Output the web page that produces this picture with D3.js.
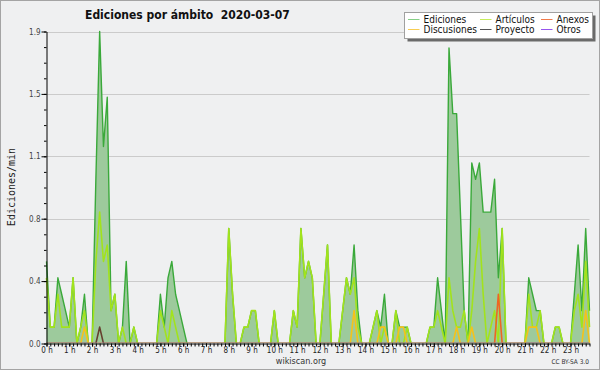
<!DOCTYPE html>
<html>
<head>
<meta charset="utf-8">
<script src="https://cdn.jsdelivr.net/npm/d3@7"></script>
<style>
  html, body { margin: 0; padding: 0; background: #eff0f1; }
  svg { display: block; }
</style>
</head>
<body>
<svg id="chart" width="600" height="370"></svg>
<script>
// edits per minute, one value per 10 minutes (6 per hour)
const ediciones = [
  0.5, 0.1, 0.1, 0.4, 0.3, 0.2, // 0 h
  0.1, 0.4, 0.0, 0.1, 0.3, 0.0, // 1 h
  0.0, 1.0, 1.9, 1.2, 1.5, 0.2, // 2 h
  0.3, 0.0, 0.1, 0.5, 0.0, 0.1, // 3 h
  0.0, 0.0, 0.0, 0.0, 0.0, 0.0, // 4 h
  0.3, 0.1, 0.4, 0.5, 0.3, 0.2, // 5 h
  0.1, 0.0, 0.0, 0.0, 0.0, 0.0, // 6 h
  0.0, 0.0, 0.0, 0.0, 0.0, 0.0, // 7 h
  0.7, 0.3, 0.0, 0.0, 0.1, 0.1, // 8 h
  0.2, 0.2, 0.0, 0.0, 0.0, 0.0, // 9 h
  0.2, 0.0, 0.0, 0.0, 0.0, 0.2, // 10 h
  0.1, 0.7, 0.4, 0.5, 0.4, 0.0, // 11 h
  0.0, 0.3, 0.6, 0.0, 0.0, 0.0, // 12 h
  0.2, 0.4, 0.3, 0.6, 0.2, 0.0, // 13 h
  0.0, 0.0, 0.1, 0.2, 0.1, 0.3, // 14 h
  0.0, 0.0, 0.2, 0.1, 0.1, 0.1, // 15 h
  0.0, 0.0, 0.0, 0.0, 0.0, 0.1, // 16 h
  0.1, 0.4, 0.2, 0.0, 1.8, 1.4, // 17 h
  1.4, 0.8, 0.2, 0.0, 1.1, 1.0, // 18 h
  1.1, 0.8, 0.8, 0.8, 1.0, 0.4, // 19 h
  0.7, 0.0, 0.0, 0.0, 0.0, 0.0, // 20 h
  0.0, 0.4, 0.3, 0.2, 0.2, 0.0, // 21 h
  0.0, 0.0, 0.1, 0.1, 0.0, 0.0, // 22 h
  0.0, 0.3, 0.6, 0.2, 0.7, 0.2  // 23 h
];

const articulos = [
  0.4, 0.1, 0.1, 0.3, 0.1, 0.1,
  0.1, 0.4, 0.0, 0.1, 0.2, 0.0,
  0.0, 0.5, 0.8, 0.5, 0.6, 0.2,
  0.3, 0.0, 0.1, 0.0, 0.0, 0.1,
  0.0, 0.0, 0.0, 0.0, 0.0, 0.0,
  0.2, 0.1, 0.0, 0.2, 0.1, 0.0,
  0.0, 0.0, 0.0, 0.0, 0.0, 0.0,
  0.0, 0.0, 0.0, 0.0, 0.0, 0.0,
  0.7, 0.3, 0.0, 0.0, 0.1, 0.1,
  0.2, 0.2, 0.0, 0.0, 0.0, 0.0,
  0.2, 0.0, 0.0, 0.0, 0.0, 0.2,
  0.1, 0.7, 0.4, 0.5, 0.4, 0.0,
  0.0, 0.3, 0.6, 0.0, 0.0, 0.0,
  0.2, 0.4, 0.3, 0.4, 0.1, 0.0,
  0.0, 0.0, 0.1, 0.2, 0.0, 0.1,
  0.0, 0.0, 0.2, 0.0, 0.0, 0.1,
  0.0, 0.0, 0.0, 0.0, 0.0, 0.1,
  0.1, 0.2, 0.1, 0.0, 0.4, 0.2,
  0.1, 0.1, 0.2, 0.0, 0.2, 0.5,
  0.7, 0.3, 0.0, 0.1, 0.2, 0.0,
  0.7, 0.0, 0.0, 0.0, 0.0, 0.0,
  0.0, 0.3, 0.1, 0.1, 0.2, 0.0,
  0.0, 0.0, 0.1, 0.1, 0.0, 0.0,
  0.0, 0.2, 0.3, 0.1, 0.5, 0.1
];

const discusiones = [
  0, 0, 0, 0, 0, 0,
  0, 0, 0, 0, 0.1, 0,
  0, 0, 0, 0, 0, 0,
  0, 0, 0, 0, 0, 0,
  0, 0, 0, 0, 0, 0,
  0, 0, 0, 0, 0, 0,
  0, 0, 0, 0, 0, 0,
  0, 0, 0, 0, 0, 0,
  0, 0, 0, 0, 0, 0,
  0, 0, 0, 0, 0, 0,
  0, 0, 0, 0, 0, 0,
  0, 0, 0, 0, 0, 0,
  0, 0, 0, 0, 0, 0,
  0, 0, 0, 0.2, 0, 0,
  0, 0, 0, 0, 0.1, 0.1,
  0, 0, 0, 0.1, 0.1, 0,
  0, 0, 0, 0, 0, 0,
  0, 0, 0, 0, 0, 0,
  0.1, 0, 0, 0, 0.1, 0,
  0, 0, 0, 0, 0, 0,
  0, 0, 0, 0, 0, 0,
  0, 0.1, 0.1, 0.1, 0, 0,
  0, 0, 0, 0, 0, 0,
  0, 0, 0, 0, 0.2, 0
];

const anexos = [
  0, 0, 0, 0, 0, 0,  0, 0, 0, 0, 0, 0,  0, 0, 0, 0, 0, 0,  0, 0, 0, 0, 0, 0,
  0, 0, 0, 0, 0, 0,  0, 0, 0, 0, 0, 0,  0, 0, 0, 0, 0, 0,  0, 0, 0, 0, 0, 0,
  0, 0, 0, 0, 0, 0,  0, 0, 0, 0, 0, 0,  0, 0, 0, 0, 0, 0,  0, 0, 0, 0, 0, 0,
  0, 0, 0, 0, 0, 0,  0, 0, 0, 0, 0, 0,  0, 0, 0, 0, 0, 0,  0, 0, 0, 0, 0, 0,
  0, 0, 0, 0, 0, 0,  0, 0, 0, 0, 0, 0,  0, 0, 0, 0, 0, 0,  0, 0, 0, 0, 0, 0.3,
  0, 0, 0, 0, 0, 0,  0, 0, 0, 0, 0, 0,  0, 0, 0, 0, 0, 0,  0, 0, 0, 0, 0, 0
];

const proyecto = [
  0, 0, 0, 0, 0, 0,  0, 0, 0, 0, 0, 0,  0, 0, 0.1, 0, 0, 0,  0, 0, 0, 0, 0, 0,
  0, 0, 0, 0, 0, 0,  0, 0, 0, 0, 0, 0,  0, 0, 0, 0, 0, 0,  0, 0, 0, 0, 0, 0,
  0, 0, 0, 0, 0, 0,  0, 0, 0, 0, 0, 0,  0, 0, 0, 0, 0, 0,  0, 0, 0, 0, 0, 0,
  0, 0, 0, 0, 0, 0,  0, 0, 0, 0, 0, 0,  0, 0, 0, 0, 0, 0,  0, 0, 0, 0, 0, 0,
  0, 0, 0, 0, 0, 0,  0, 0, 0, 0, 0, 0,  0, 0, 0, 0, 0, 0,  0, 0, 0, 0, 0, 0,
  0, 0, 0, 0, 0, 0,  0, 0, 0, 0, 0, 0,  0, 0, 0, 0, 0, 0,  0, 0, 0, 0, 0, 0
];

const otros = [
  0, 0, 0, 0, 0, 0,  0, 0, 0, 0, 0, 0,  0, 0, 0, 0, 0, 0,  0, 0, 0, 0, 0, 0,
  0, 0, 0, 0, 0, 0,  0, 0, 0, 0, 0, 0,  0, 0, 0, 0, 0, 0,  0, 0, 0, 0, 0, 0,
  0, 0, 0, 0, 0, 0,  0, 0, 0, 0, 0, 0,  0, 0, 0, 0, 0, 0,  0, 0, 0, 0, 0, 0,
  0, 0, 0, 0, 0, 0,  0, 0, 0, 0, 0, 0,  0, 0, 0, 0, 0, 0,  0, 0, 0, 0, 0, 0,
  0, 0, 0, 0, 0, 0,  0, 0, 0, 0, 0, 0,  0, 0, 0, 0, 0, 0,  0, 0, 0, 0, 0, 0,
  0, 0, 0, 0, 0, 0,  0, 0, 0, 0, 0, 0,  0, 0, 0, 0, 0, 0,  0, 0, 0, 0, 0, 0
];

const yMax = 1.9;
const yTicks = [0, 0.38, 0.76, 1.14, 1.52, 1.9];
const hours = d3.range(0, 24);
const legendNames = ["Ediciones", "Artículos", "Anexos", "Discusiones", "Proyecto", "Otros"];

const series = [
  { name: "Ediciones", values: ediciones },
  { name: "Artículos", values: articulos },
  { name: "Anexos", values: anexos },
  { name: "Discusiones", values: discusiones },
  { name: "Proyecto", values: proyecto },
  { name: "Otros", values: otros }
];

const lineColor = {
  "Ediciones": "#3aa93a",
  "Artículos": "#a2e31c",
  "Anexos": "#ee6524",
  "Discusiones": "#f5c21a",
  "Proyecto": "#66402e",
  "Otros": "#9a4cf0"
};
const legendColor = {
  "Ediciones": "#86cf86",
  "Artículos": "#c6ec5c",
  "Anexos": "#f07a4a",
  "Discusiones": "#f7cd52",
  "Proyecto": "#555555",
  "Otros": "#9655ee"
};

const FONT = "'DejaVu Sans Condensed', 'DejaVu Sans', sans-serif";
const svg = d3.select("#chart");

svg.append("rect")
  .attr("x", 0.5).attr("y", 0.5)
  .attr("width", 599).attr("height", 369)
  .attr("fill", "#eff0f1")
  .attr("stroke", "#a4a4a4");

// x in hours, one point every 10 minutes
const x = d3.scaleLinear().domain([0, 23 + 5 / 6]).range([46.5, 589.5]);
const y = d3.scaleLinear().domain([0, yMax]).range([343.5, 31.5]);
const xi = (i) => x(i / 6);

// grid
svg.append("g")
  .selectAll("line")
  .data(yTicks.slice(1))
  .join("line")
  .attr("x1", x.range()[0]).attr("x2", x.range()[1])
  .attr("y1", (d) => Math.round(y(d)) + 0.5).attr("y2", (d) => Math.round(y(d)) + 0.5)
  .attr("stroke", "#cbcbcb");

svg.append("clipPath").attr("id", "above-axis")
  .append("rect")
  .attr("x", 40).attr("y", 0)
  .attr("width", 560).attr("height", y(0) - 0.8);

const area = d3.area()
  .x((d, i) => xi(i))
  .y0(y(0))
  .y1((d) => y(d));

svg.append("path")
  .datum(ediciones)
  .attr("d", area)
  .attr("fill", "#9dca9c");

const line = d3.line()
  .x((d, i) => xi(i))
  .y((d) => y(d));

svg.append("g")
  .attr("clip-path", "url(#above-axis)")
  .selectAll("path")
  .data(series)
  .join("path")
  .attr("d", (s) => line(s.values))
  .attr("fill", "none")
  .attr("stroke", (s) => lineColor[s.name])
  .attr("stroke-width", (s) => (s.name == "Ediciones" ? 1.4 : 1.6))
  .attr("stroke-linejoin", "round");

// y axis: minor ticks then labelled ones
const yAxisG = svg.append("g").attr("transform", "translate(46.5,0)");
yAxisG.append("g")
  .call(d3.axisLeft(y)
    .tickValues(d3.range(0, 21).map((k) => (k * yMax) / 20))
    .tickSize(2.5)
    .tickSizeOuter(0)
    .tickFormat(""))
  .call((g) => g.select(".domain").remove());
yAxisG.append("g")
  .call(d3.axisLeft(y)
    .tickValues(yTicks)
    .tickSize(5)
    .tickSizeOuter(0)
    .tickPadding(1)
    .tickFormat(d3.format(".1f")))
  .attr("font-family", FONT)
  .attr("font-size", 8)
  .call((g) => g.selectAll("text").attr("fill", "#444"));

// x axis: a tick every 10 minutes, labels on the hours
const xAxisG = svg.append("g").attr("transform", `translate(0,${y(0)})`);
xAxisG.append("g")
  .call(d3.axisBottom(x)
    .tickValues(d3.range(0, 144).map((i) => i / 6))
    .tickSize(3)
    .tickSizeOuter(0)
    .tickFormat(""));
xAxisG.append("g")
  .call(d3.axisBottom(x)
    .tickValues(hours)
    .tickSize(3)
    .tickSizeOuter(0)
    .tickPadding(1)
    .tickFormat((h) => `${h} h`))
  .attr("font-family", FONT)
  .attr("font-size", 8)
  .call((g) => g.select(".domain").remove())
  .call((g) => g.selectAll("text").attr("fill", "#222"));

// titles
svg.append("text")
  .attr("x", 85).attr("y", 18.5)
  .attr("font-family", FONT)
  .attr("font-weight", "bold")
  .attr("font-size", 12)
  .attr("fill", "#111")
  .style("white-space", "pre")
  .text("Ediciones por ámbito  2020-03-07");

svg.append("text")
  .attr("transform", "translate(15,187) rotate(-90)")
  .attr("text-anchor", "middle")
  .attr("font-family", "'DejaVu Sans Mono', monospace")
  .attr("font-size", 10)
  .attr("fill", "#222")
  .text("Ediciones/min");

svg.append("text")
  .attr("x", 301).attr("y", 364)
  .attr("text-anchor", "middle")
  .attr("font-family", FONT)
  .attr("font-size", 9)
  .attr("fill", "#333")
  .text("wikiscan.org");

svg.append("text")
  .attr("x", 589).attr("y", 364)
  .attr("text-anchor", "end")
  .attr("font-family", FONT)
  .attr("font-size", 6.5)
  .attr("fill", "#333")
  .text("CC BY-SA 3.0");

// legend
const lg = svg.append("g");
lg.append("rect")
  .attr("x", 407.5).attr("y", 15.5)
  .attr("width", 188).attr("height", 26)
  .attr("fill", "#6a6a6a");
lg.append("rect")
  .attr("x", 404.5).attr("y", 12.5)
  .attr("width", 188).attr("height", 26)
  .attr("fill", "#fff")
  .attr("stroke", "#a0a0a0");

const colX = [408, 480, 541];
const rowY = [19.5, 29.5];
const items = lg.selectAll("g.item")
  .data(legendNames)
  .join("g")
  .attr("class", "item")
  .attr("transform", (d, k) => `translate(${colX[k % 3]},${rowY[Math.floor(k / 3)]})`);
items.append("line")
  .attr("x1", 0).attr("x2", 11.5)
  .attr("stroke", (d) => legendColor[d])
  .attr("stroke-width", 1);
items.append("text")
  .attr("x", 15.5).attr("y", 3.5)
  .attr("font-family", FONT)
  .attr("font-size", 10)
  .attr("fill", "#111")
  .text((d) => d);
</script>
</body>
</html>
